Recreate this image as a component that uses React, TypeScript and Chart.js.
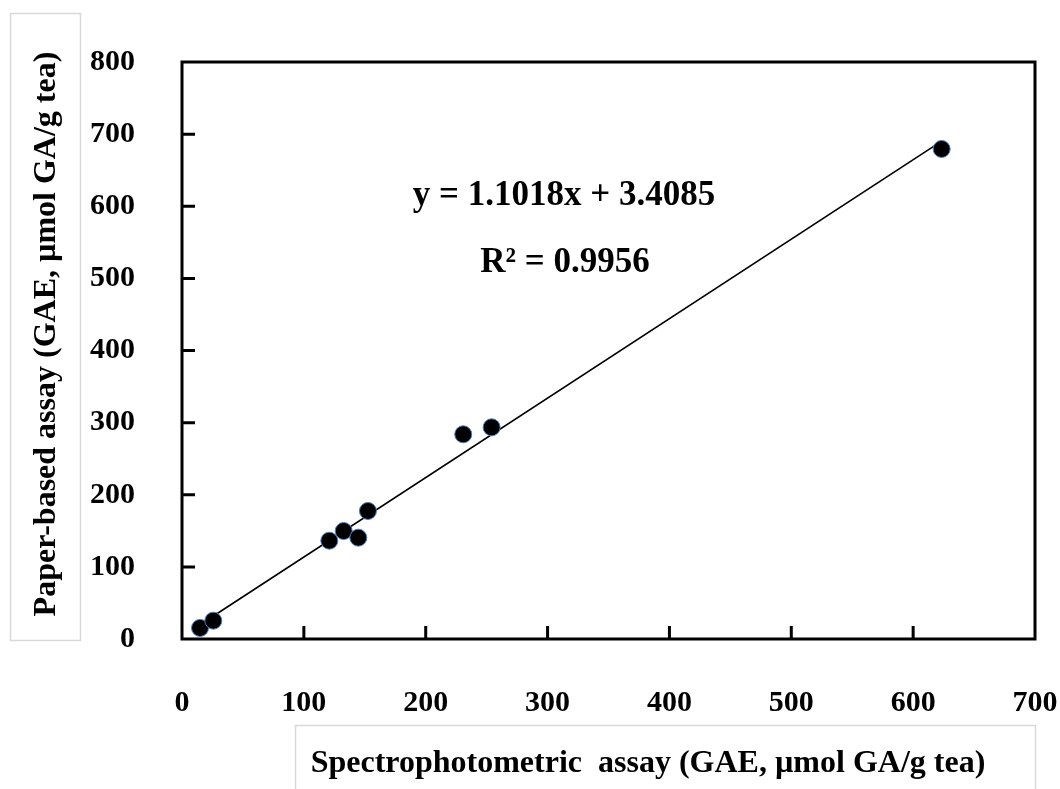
import React, { useEffect, useRef } from "react";
import { Chart, registerables } from "chart.js";

Chart.register(...registerables);

// Data
const spectroValues = [14.8, 25.7, 120.9, 132.7, 144.7, 152.6, 230.8, 254.1, 623.4];
const paperValues = [15.3, 25.4, 136.3, 149.7, 140.5, 177.5, 283.8, 293.5, 679.4];
const trendX = [14.8, 623.4];
const trendY = [19.7, 690.3];
const xTickValues = [0, 100, 200, 300, 400, 500, 600, 700];
const yTickValues = [0, 100, 200, 300, 400, 500, 600, 700, 800];
const equationText = "y = 1.1018x + 3.4085";
const r2Text = "R\u00B2 = 0.9956";
const xTitle = "Spectrophotometric  assay (GAE, \u00B5mol GA/g tea)";
const yTitle = "Paper-based assay (GAE, \u00B5mol GA/g tea)";

const FONT = "'Liberation Serif', 'Times New Roman', serif";

export default function App() {
  const ref = useRef<HTMLCanvasElement | null>(null);

  useEffect(() => {
    document.body.style.margin = "0";
    const canvas = ref.current;
    if (!canvas) return;

    const decor = {
      id: "decor",
      beforeDatasetsDraw(chart: any) {
        const { ctx, chartArea } = chart;
        const xs = chart.scales.x;
        const ys = chart.scales.y;
        ctx.save();
        ctx.strokeStyle = "#000";
        ctx.lineWidth = 3;
        ctx.strokeRect(chartArea.left, chartArea.top, chartArea.right - chartArea.left, chartArea.bottom - chartArea.top);
        ctx.beginPath();
        xTickValues.slice(1, -1).forEach((v) => {
          const px = xs.getPixelForValue(v);
          ctx.moveTo(px, chartArea.bottom);
          ctx.lineTo(px, chartArea.bottom - 13);
        });
        yTickValues.slice(1, -1).forEach((v) => {
          const py = ys.getPixelForValue(v);
          ctx.moveTo(chartArea.left, py);
          ctx.lineTo(chartArea.left + 13, py);
        });
        ctx.stroke();
        ctx.restore();
      },
      afterDraw(chart: any) {
        const { ctx } = chart;
        ctx.save();
        ctx.fillStyle = "#000";
        ctx.font = `bold 35px ${FONT}`;
        ctx.textAlign = "center";
        ctx.textBaseline = "middle";
        ctx.fillText(equationText, 564, 196);
        ctx.fillText(r2Text, 565, 263);

        // axis title boxes
        ctx.strokeStyle = "#d9d9d9";
        ctx.lineWidth = 1.5;
        ctx.strokeRect(10.5, 13.5, 70, 627);
        ctx.strokeRect(295.5, 725.5, 740, 80);

        ctx.font = `bold 32px ${FONT}`;
        ctx.textBaseline = "alphabetic";
        ctx.fillText(xTitle, 648, 772);

        ctx.save();
        ctx.translate(47, 334);
        ctx.rotate(-Math.PI / 2);
        ctx.textBaseline = "middle";
        ctx.fillText(yTitle, 0, 0);
        ctx.restore();
        ctx.restore();
      },
    };

    const chart = new Chart(canvas, {
      type: "scatter",
      data: {
        datasets: [
          {
            label: "trend",
            data: trendX.map((x, i) => ({ x, y: trendY[i] })),
            showLine: true,
            borderColor: "#000",
            borderWidth: 1.6,
            pointRadius: 0,
            order: 2,
          },
          {
            label: "samples",
            data: spectroValues.map((x, i) => ({ x, y: paperValues[i] })),
            pointRadius: 8.5,
            backgroundColor: "#000",
            borderColor: "#4a7fc0",
            borderWidth: 1,
            order: 1,
          },
        ],
      },
      options: {
        responsive: false,
        animation: false,
        layout: { padding: { left: 0, top: 62, right: 25, bottom: 0 } },
        plugins: {
          legend: { display: false },
          tooltip: { enabled: false },
        },
        scales: {
          x: {
            type: "linear",
            min: 0,
            max: 700,
            afterBuildTicks: (s: any) => {
              s.ticks = xTickValues.map((v) => ({ value: v }));
            },
            afterFit: (s: any) => {
              s.height = 150;
              s.paddingLeft = 0;
              s.paddingRight = 0;
            },
            ticks: {
              padding: 46,
              maxRotation: 0,
              minRotation: 0,
              color: "#000",
              font: { family: FONT, size: 30, weight: "bold" },
            },
            grid: { display: false, drawTicks: false },
            border: { display: false },
          },
          y: {
            type: "linear",
            min: 0,
            max: 800,
            afterBuildTicks: (s: any) => {
              s.ticks = yTickValues.map((v) => ({ value: v }));
            },
            afterFit: (s: any) => {
              s.width = 182;
              s.paddingTop = 0;
              s.paddingBottom = 0;
            },
            ticks: {
              padding: 47,
              color: "#000",
              font: { family: FONT, size: 30, weight: "bold" },
            },
            grid: { display: false, drawTicks: false },
            border: { display: false },
          },
        },
      },
      plugins: [decor],
    });

    return () => chart.destroy();
  }, []);

  return (
    <div style={{ width: 1060, height: 789, background: "#fff" }}>
      <canvas ref={ref} width={1060} height={789} style={{ display: "block" }} />
    </div>
  );
}
